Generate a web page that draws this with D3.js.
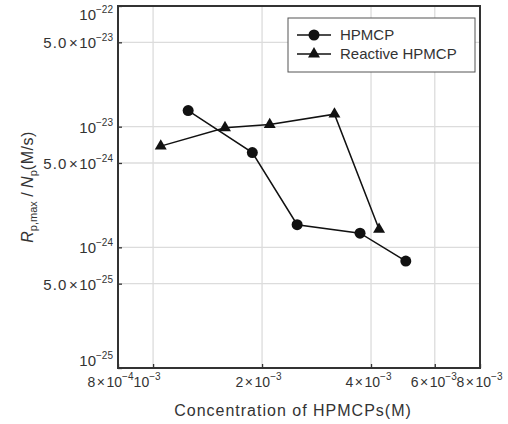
<!DOCTYPE html>
<html>
<head>
<meta charset="utf-8">
<script src="https://cdn.jsdelivr.net/npm/d3@7"></script>
<style>
body { margin: 0; background: #fff; }
text { font-family: "Liberation Sans", Arial, sans-serif; fill: #333; }
</style>
</head>
<body>
<div class="mainviz"></div>
<script>
// data
var hpmcpX = [1.25e-3, 1.88e-3, 2.50e-3, 3.73e-3, 4.99e-3];
var hpmcpY = [1.36e-23, 6.1e-24, 1.54e-24, 1.31e-24, 7.7e-25];
var reactX = [1.05e-3, 1.58e-3, 2.10e-3, 3.17e-3, 4.21e-3];
var reactY = [6.9e-24, 9.8e-24, 1.04e-23, 1.27e-23, 1.41e-24];

var xTicks = [8e-4, 1e-3, 2e-3, 4e-3, 6e-3, 8e-3];
var xTickMant = ["8", "", "2", "4", "6", "8"];
var xTickExp = ["4", "3", "3", "3", "3", "3"];
var xGrid = [1e-3, 2e-3, 4e-3, 6e-3];

var yTicks = [1e-25, 5e-25, 1e-24, 5e-24, 1e-23, 5e-23, 1e-22];
var yTickMant = ["", "5.0", "", "5.0", "", "5.0", ""];
var yTickExp = ["25", "25", "24", "24", "23", "23", "22"];
var yGrid = [5e-25, 1e-24, 5e-24, 1e-23, 5e-23];

var legendNames = ["HPMCP", "Reactive HPMCP"];

var margin = { top: 6, right: 28, bottom: 56, left: 118 };
var width = 508 - margin.left - margin.right,
	height = 424 - margin.top - margin.bottom;

var svg = d3.select(".mainviz").append("svg")
	.attr("width", 508)
	.attr("height", 424);

var g = svg.append("g")
	.attr("transform", "translate(" + margin.left + "," + margin.top + ")");

var x = d3.scaleLog().domain([8e-4, 8e-3]).range([0, width]);
var y = d3.scaleLog().domain([1e-25, 1e-22]).range([height, 0]);

// grid
g.selectAll("line.gx").data(xGrid).enter().append("line")
	.attr("x1", function(d){ return x(d); }).attr("x2", function(d){ return x(d); })
	.attr("y1", 0).attr("y2", height)
	.attr("stroke", "#dcdcdc").attr("stroke-width", 1.3);
g.selectAll("line.gy").data(yGrid).enter().append("line")
	.attr("y1", function(d){ return y(d); }).attr("y2", function(d){ return y(d); })
	.attr("x1", 0).attr("x2", width)
	.attr("stroke", "#dcdcdc").attr("stroke-width", 1.3);

// mantissa × 10 ^ -exp, with a roomier times sign like the original
function supLabel(sel, mant, exp, supDy, spacing) {
	sel.text(null);
	if (mant) {
		sel.append("tspan").attr("letter-spacing", spacing).text(mant);
		sel.append("tspan").attr("dx", 1.5).text("\u00d7");
		sel.append("tspan").attr("dx", 1.5).text("10");
	} else {
		sel.append("tspan").text("10");
	}
	sel.append("tspan").attr("dy", supDy).attr("font-size", 10).text("\u2212" + exp);
}

// x axis
var xAxis = d3.axisBottom(x).tickValues(xTicks).tickSizeInner(-4).tickSizeOuter(0).tickPadding(9);
var gx = g.append("g").attr("transform", "translate(0," + height + ")").call(xAxis);
gx.select(".domain").remove();
gx.selectAll(".tick line").attr("stroke", "#333").attr("stroke-width", 1.3);
var xShift = [-8, -6.5, -4, -3, -1.5, -1];
gx.selectAll(".tick text")
	.attr("font-size", 14).attr("fill", "#333")
	.attr("dx", function(d, i){ return xShift[i]; })
	.each(function(d, i){ supLabel(d3.select(this), xTickMant[i], xTickExp[i], -7, 0); });

// y axis
var yAxis = d3.axisLeft(y).tickValues(yTicks).tickSizeInner(-4).tickSizeOuter(0).tickPadding(5);
var gy = g.append("g").call(yAxis);
gy.select(".domain").remove();
gy.selectAll(".tick line").attr("stroke", "#333").attr("stroke-width", 1.3);
gy.selectAll(".tick text")
	.attr("font-size", 15).attr("fill", "#333")
	.attr("dy", function(d, i){ return i === 0 ? "-0.2em" : (i === yTicks.length - 1 ? "0.9em" : "0.36em"); })
	.each(function(d, i){ supLabel(d3.select(this), yTickMant[i], yTickExp[i], -7, 1.2); });

// frame
g.append("rect").attr("width", width).attr("height", height)
	.attr("fill", "none").attr("stroke", "#333").attr("stroke-width", 2);

// series
var line = d3.line()
	.x(function(d){ return x(d[0]); })
	.y(function(d){ return y(d[1]); });

var hpmcp = d3.zip(hpmcpX, hpmcpY);
var react = d3.zip(reactX, reactY);

g.append("path").attr("d", line(hpmcp)).attr("fill", "none").attr("stroke", "#111").attr("stroke-width", 1.5);
g.append("path").attr("d", line(react)).attr("fill", "none").attr("stroke", "#111").attr("stroke-width", 1.5);

g.selectAll("circle.hp").data(hpmcp).enter().append("circle")
	.attr("cx", function(d){ return x(d[0]); })
	.attr("cy", function(d){ return y(d[1]); })
	.attr("r", 5.5).attr("fill", "#111");

var tri = d3.symbol().type(d3.symbolTriangle).size(62);
g.selectAll("path.re").data(react).enter().append("path")
	.attr("d", tri)
	.attr("transform", function(d){ return "translate(" + x(d[0]) + "," + y(d[1]) + ")"; })
	.attr("fill", "#111");

// legend
var lg = svg.append("g").attr("transform", "translate(288,18)");
lg.append("rect").attr("width", 187).attr("height", 54)
	.attr("fill", "#fff").attr("stroke", "#555").attr("stroke-width", 1);
legendNames.forEach(function(name, i){
	var ly = 17 + i * 19;
	lg.append("line").attr("x1", 9).attr("x2", 43).attr("y1", ly).attr("y2", ly)
		.attr("stroke", "#111").attr("stroke-width", 1.5);
	if (i === 0) {
		lg.append("circle").attr("cx", 26).attr("cy", ly).attr("r", 5.5).attr("fill", "#111");
	} else {
		lg.append("path").attr("d", tri).attr("transform", "translate(26," + ly + ")").attr("fill", "#111");
	}
	lg.append("text").attr("x", 52).attr("y", ly).attr("dy", "0.36em")
		.attr("font-size", 15).text(name);
});

// axis titles
svg.append("text")
	.attr("x", margin.left + width / 2 - 6).attr("y", 416)
	.attr("text-anchor", "middle").attr("font-size", 16).attr("letter-spacing", 1)
	.text("Concentration of HPMCPs(M)");

var yt = svg.append("text")
	.attr("transform", "translate(33," + (margin.top + height / 2) + ") rotate(-90)")
	.attr("text-anchor", "middle").attr("font-size", 16);
yt.append("tspan").attr("font-style", "italic").text("R");
yt.append("tspan").attr("font-size", 11).attr("dy", 4).text("p,max");
yt.append("tspan").attr("dy", -4).text(" / ");
yt.append("tspan").attr("font-style", "italic").text("N");
yt.append("tspan").attr("font-size", 11).attr("dy", 4).text("p");
yt.append("tspan").attr("dy", -4).attr("letter-spacing", 0.5).text("(M/s)");
</script>
</body>
</html>
